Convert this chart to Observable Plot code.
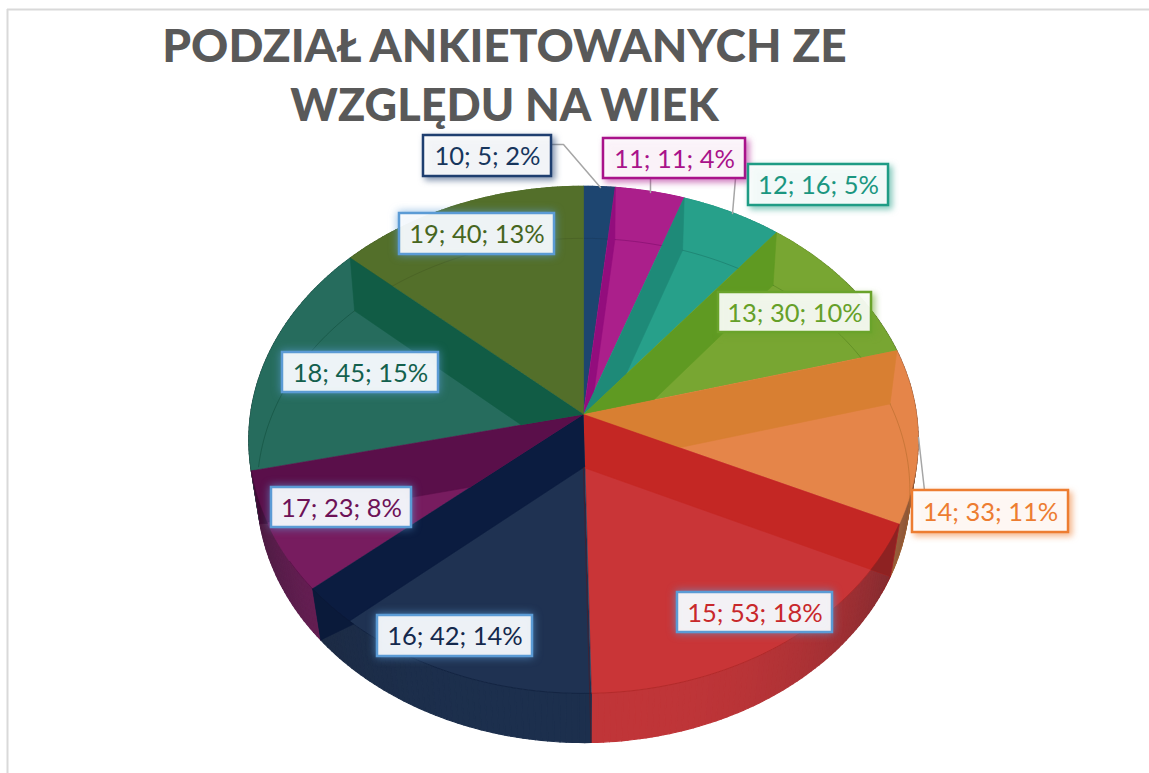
<!DOCTYPE html>
<html><head><meta charset="utf-8">
<script src="https://cdn.jsdelivr.net/npm/d3@7"></script>
<script src="https://cdn.jsdelivr.net/npm/@observablehq/plot@0.6"></script>
<style>html,body{margin:0;padding:0;background:#fff;overflow:hidden}svg{display:block}</style>
</head><body><div id="chart"></div>
<script>
const titleLines = ["PODZIAŁ ANKIETOWANYCH ZE", "WZGLĘDU NA WIEK"];
const titleSizes = [46, 45];
const titleBaselines = [61, 120];
const ages = [10, 11, 12, 13, 14, 15, 16, 17, 18, 19];
const counts = [5, 11, 16, 30, 33, 53, 42, 23, 45, 40];
const percents = [2, 4, 5, 10, 11, 18, 14, 8, 15, 13];
const faceColors = ["#1d4570","#ab1f8b","#27a08a","#78a632","#e58549","#c93537","#1f3252","#771c5f","#266c5d","#536f2a"];
const wallColors = ["#1d4570","#930d7d","#1e8a78","#5f9a22","#d87f32","#c42724","#0b1c40","#5a0f4a","#115c45","#536f2a"];
const sideColors = ["#1d4570","#ab1f8b","#27a08a","#78a632","#e58549","#c03538","#1c2f4d","#7a1f60","#266c5d","#536f2a"];
const cornerColors = ["#1d4570","#930d7d","#1e8a78","#5f9a22","#d87f32","#8e2222","#0a1a3a","#3f0c36","#115c45","#536f2a"];
const labelColors = ["#17365d","#a9128a","#1a9680","#65a028","#ed7d31","#c8282b","#14294d","#6d1257","#13604d","#47661e"];
const borderColors = ["#1f3f70","#a9128a","#1f9c85","#6aa32b","#ed7d31","#5b9bd5","#5b9bd5","#5b9bd5","#5b9bd5","#5b9bd5"];
const boxLeft   = [423, 603, 748, 718, 912, 677, 377, 271, 282, 399];
const boxRight  = [551, 745, 888, 871, 1068, 832, 532, 411, 438, 554];
const boxTop    = [135, 138, 164, 292, 490, 592, 615, 487, 352, 213];
const boxBottom = [176, 178, 205, 332, 532, 632, 656, 527, 392, 254];
const leaders = [
  [[551,144],[563,144],[600,187]],
  [[650,178],[650,192]],
  [[735,178],[732,213]],
  [[918,437],[924,490]]
];

const total = d3.sum(counts);
const cum = d3.cumsum(counts);
const startAngle = i => (i ? cum[i-1] : 0) / total * 2 * Math.PI;
const endAngle = i => cum[i] / total * 2 * Math.PI;

const projector = (cx, cy, R, S, k) => t => {
  const u = Math.sin(t), v = Math.cos(t), w = 1 + k * v;
  return [cx + R * u / w, cy - S * v / w];
};
const upperDisc = projector(583, 414, 333, 251, 0.1);
const lowerDisc = projector(583, 467, 325, 250, 0.091);
const apexTop = [583, 414], apexBottom = [583, 467];
const arc = (f, a, b) => {
  const n = Math.max(2, Math.ceil(Math.abs(b - a) / (Math.PI / 180)));
  return d3.range(n + 1).map(j => f(a + (b - a) * j / n));
};
const intersect = (p1, p2, p3, p4) => {
  const d = (p1[0]-p2[0])*(p3[1]-p4[1]) - (p1[1]-p2[1])*(p3[0]-p4[0]);
  if (Math.abs(d) < 1e-6) return p1;
  const t = ((p1[0]-p3[0])*(p3[1]-p4[1]) - (p1[1]-p3[1])*(p3[0]-p4[0])) / d;
  return [p1[0] + t*(p2[0]-p1[0]), p1[1] + t*(p2[1]-p1[1])];
};
const sideOfLine = (p, a, b) => (b[0]-a[0])*(p[1]-a[1]) - (b[1]-a[1])*(p[0]-a[0]);

const sides = [], faces = [], walls = [], corners = [], farRings = [], nearRings = [];
const push = (arr, pts, id, c) => pts.forEach(p => arr.push({x:p[0], y:p[1], id, c}));
ages.forEach((age, i) => {
  const a = startAngle(i), b = endAngle(i), mid = (a + b) / 2;
  // side strips, shaded towards the silhouette
  const n = Math.max(2, Math.ceil((b - a) / (Math.PI / 180)));
  d3.range(n).forEach(j => {
    const t0 = a + (b-a)*j/n, t1 = a + (b-a)*(j+1)/n, m = (t0+t1)/2;
    const dark = 0.5 * Math.pow(Math.abs(Math.sin(m)), 3);
    const c = d3.interpolateRgb(sideColors[i], "#1a1a22")(dark);
    const p0 = upperDisc(t0);
    push(sides, [p0, upperDisc(t1), lowerDisc(t1), lowerDisc(t0), p0], `${i}-${j}`, c);
  });
  push(faces, [apexTop, ...arc(upperDisc, a, b)], i, faceColors[i]);
  // radial inner wall on the side of the wedge that faces the viewer
  const right = mid < Math.PI;
  const wallAngle = right ? a : b, otherAngle = right ? b : a;
  const P = upperDisc(wallAngle), P2 = lowerDisc(wallAngle), O = upperDisc(otherAngle);
  const Q = intersect(apexBottom, P2, apexTop, O);
  push(walls, [apexTop, P, P2, Q], i, wallColors[i]);
  // where the wall drops below the near rim it is seen in shadow
  if (Math.cos(wallAngle) < -0.1) {
    const seq = arc(upperDisc, wallAngle, otherAngle);
    const k = seq.findIndex(p => sideOfLine(p, apexBottom, P2) * sideOfLine(P, apexBottom, P2) < 0);
    if (k > 0) push(corners, [P, ...seq.slice(1, k + 1), P2], i, cornerColors[i]);
  }
  // rim lines: far edge of the lower disc, near edge of the upper disc
  const ringColor = d3.color(wallColors[i]).darker(0.6).formatHex();
  const far = arc(lowerDisc, a, b).filter(p => p[1] < 467 || p[0] > 880);
  if (far.length > 1) push(farRings, far, "f" + i, ringColor);
  const near = arc(upperDisc, a, b).filter(p => p[1] > 560);
  if (near.length > 1) push(nearRings, near, "n" + i, ringColor);
});
// dark seam where the two front slices meet
push(nearRings, [apexBottom, lowerDisc(endAngle(5))], "seam", "#5e1216");

const leaderPts = leaders.flatMap((l, id) => l.map(p => ({x:p[0], y:p[1], id})));
const rows = ages.map((age, i) => ({
  i, text: `${age}; ${counts[i]}; ${percents[i]}%`,
  x1: boxLeft[i], x2: boxRight[i], y1: boxTop[i], y2: boxBottom[i],
  cx: (boxLeft[i] + boxRight[i]) / 2, cy: (boxTop[i] + boxBottom[i]) / 2 + 1
}));

const polygon = (data, extra = {}) => Plot.line(data, {x:"x", y:"y", z:"id", fill:"c", stroke:"c", strokeWidth:0.6, ...extra});
const ringLine = data => Plot.line(data, {x:"x", y:"y", z:"id", stroke:"c", strokeWidth:1, strokeOpacity:0.5});

const chart = Plot.plot({
  width: 1149, height: 773, margin: 0,
  x: {domain:[0,1149], range:[0,1149], axis:null},
  y: {domain:[0,773], range:[0,773], axis:null},
  color: {type:"identity"},
  style: {background:"#fff"},
  marks: [
    Plot.ruleX([7], {y1:9, y2:773, stroke:"#d9d9d9", strokeWidth:2}),
    Plot.ruleY([9], {x1:7, x2:1149, stroke:"#d9d9d9", strokeWidth:2}),
    polygon(sides, {strokeWidth:1.2}),
    polygon(faces),
    ringLine(farRings),
    polygon(walls),
    polygon(corners),
    ringLine(nearRings),
    Plot.line(leaderPts, {x:"x", y:"y", z:"id", stroke:"#a6a6a6", strokeWidth:1.5}),
    ...rows.map(r => {
      const glow = r.i >= 5;
      return Plot.rect([r], {
        x1:"x1", x2:"x2", y1:"y1", y2:"y2",
        fill:"#ffffff", fillOpacity:0.9,
        stroke: borderColors[r.i], strokeWidth: 2.5,
        imageFilter: glow
          ? `drop-shadow(0 0 4px ${d3.color(borderColors[r.i]).copy({opacity:0.75})})`
          : `drop-shadow(3px 3px 3px ${d3.color(borderColors[r.i]).copy({opacity:0.6})})`
      });
    }),
    Plot.text(rows, {x:"cx", y:"cy", text:"text", fill:d => labelColors[d.i],
      fontFamily:"Lato", fontSize:25.5, fontWeight:400, textAnchor:"middle", lineAnchor:"middle"}),
    ...titleLines.map((line, i) => Plot.text([line], {x:[504], y:[titleBaselines[i]], text:d=>d, fill:"#595959",
      fontFamily:"Lato", fontSize:titleSizes[i], fontWeight:900, textAnchor:"middle", lineAnchor:"bottom"}))
  ]
});
document.getElementById("chart").append(chart);
</script></body></html>
